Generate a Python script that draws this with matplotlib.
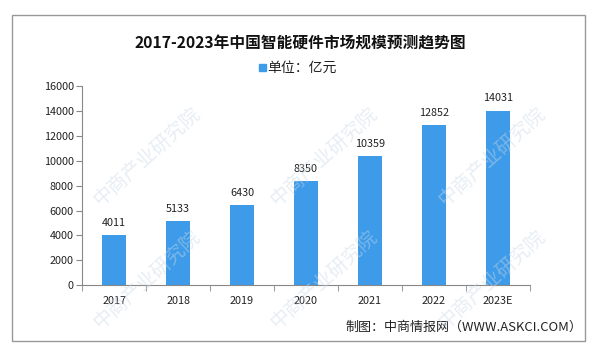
import matplotlib.pyplot as plt
from matplotlib.patches import Rectangle
import numpy as np

plt.rcParams['font.family'] = ['Noto Sans CJK SC', 'DejaVu Sans']

# data
years = ["2017", "2018", "2019", "2020", "2021", "2022", "2023E"]
values = [4011, 5133, 6430, 8350, 10359, 12852, 14031]
yticks = [0, 2000, 4000, 6000, 8000, 10000, 12000, 14000, 16000]

bar_color = "#3d9be9"

fig = plt.figure(figsize=(6, 3.56), dpi=100)
ax = fig.add_axes([0.137, 0.199, 0.746, 0.559])

x = np.arange(len(years))
ax.bar(x, values, width=0.375, color=bar_color, zorder=2)
for xi, v in zip(x, values):
    ax.text(xi, v + 600, str(v), ha="center", va="bottom", fontsize=7.8, color="#222222")

ax.set_xlim(-0.5, len(years) - 0.5)
ax.set_ylim(0, 16000)
ax.set_yticks(yticks)
ax.set_yticklabels([str(t) for t in yticks], fontsize=7.8, color="#222222")
ax.set_xticks(x)
ax.set_xticklabels(years, fontsize=7.8, color="#222222")
ax.tick_params(axis="x", length=0, pad=8)
ax.set_xticks(np.arange(-0.5, len(years)), minor=True)
ax.tick_params(axis="x", which="minor", length=4, color="#888888")
ax.tick_params(axis="y", length=4, color="#888888", pad=2)

for s in ["top", "right"]:
    ax.spines[s].set_visible(False)
for s in ["left", "bottom"]:
    ax.spines[s].set_color("#888888")
    ax.spines[s].set_linewidth(0.8)

# title, legend, footer
fig.text(0.5, 0.877, "2017-2023年中国智能硬件市场规模预测趋势图", ha="center", va="center",
         fontsize=11.3, fontweight="bold", color="#111111")
fig.patches.append(Rectangle((0.432, 0.800), 0.011, 0.019, transform=fig.transFigure,
                             color=bar_color))
fig.text(0.446, 0.809, "单位：亿元", ha="left", va="center", fontsize=10, color="#222222")
fig.text(0.97, 0.081, "制图：中商情报网（WWW.ASKCI.COM）", ha="right", va="center",
         fontsize=9.4, color="#222222")

# faint watermarks (only the ones that sit fully inside the frame)
for lx in [85, 262, 430]:
    for ly in [212, 335]:
        fig.text((lx + 62) / 600, 1 - (ly - 55) / 356, "中商产业研究院", rotation=42,
                 ha="center", va="center", fontsize=14, color="#c9d8e6", alpha=0.45,
                 zorder=5)

# outer frame
fig.patches.append(Rectangle((0.0195, 0.042), 0.956, 0.916, transform=fig.transFigure,
                             fill=False, edgecolor="#999999", linewidth=1))

fig.savefig("out.png", dpi=100)
